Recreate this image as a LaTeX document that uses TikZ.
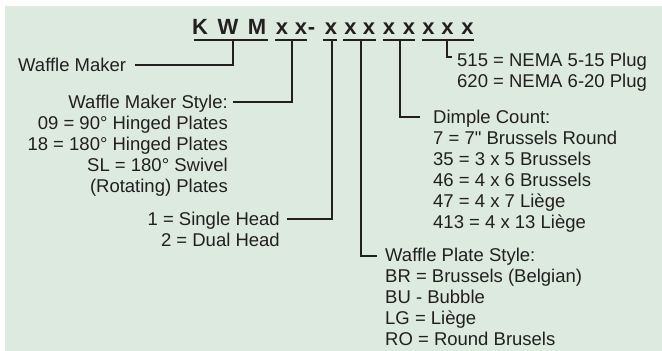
\documentclass[tikz,border=0pt]{standalone}
\usepackage{fontspec}
\setmainfont{Liberation Sans}
\definecolor{ink}{RGB}{35,31,32}
\definecolor{panel}{RGB}{220,234,224}
\begin{document}
\begin{tikzpicture}[x=1pt, y=-1pt,
  lbl/.style={inner sep=0pt, text height=12.5pt, text depth=0.5pt, text=ink, font=\fontsize{18.5}{21}\selectfont},
  cd/.style={inner sep=0pt, anchor=base, text=ink, font=\fontsize{22}{26}\selectfont\bfseries},
  ln/.style={ink, line width=2pt}]
\def\ls{21pt}
\useasboundingbox (0,0) rectangle (662,351);
\fill[panel] (5,6) rectangle (662,351);
% model code
\foreach \ch/\cx [count=\k] in {K/200, W/228, M/257, x/282, x/301, -/311.5, x/331, x/350.5, x/369, x/389, x/409, x/428.5, x/447.5, x/467.5}
  \node[cd] (c\k) at (\cx,34.7) {\ch};
\draw[ln] (194,40) -- (268,40) (275,40) -- (307,40) (323,40) -- (337,40)
  (343,40) -- (376,40) (383,40) -- (415,40) (422,40) -- (474,40);
\coordinate (kwm) at (233,40);
\coordinate (sty) at (292,40);
\coordinate (hd) at (332,40);
\coordinate (pla) at (361,40);
\coordinate (dim) at (400,40);
\coordinate (plg) at (447,40);
% left side
\node[lbl, anchor=base west] (maker) at (18,71) {Waffle Maker};
\node[lbl, anchor=base east] (style) at (228,108.3) {Waffle Maker Style:};
\foreach \t [count=\i] in {09 = 90° Hinged Plates, 18 = 180° Hinged Plates, SL = 180° Swivel, {(Rotating) Plates}}
  \node[lbl, anchor=base east] (style\i) at ([yshift=-\i*\ls]style.base east) {\t};
\node[lbl, anchor=base east] (head) at (280,225) {1 = Single Head};
\node[lbl, anchor=base east] (head1) at ([yshift=-\ls]head.base east) {2 = Dual Head};
% right side
\node[lbl, anchor=base west] (plug) at (457,66) {515 = NEMA 5-15 Plug};
\node[lbl, anchor=base west] (plug1) at ([yshift=-\ls]plug.base west) {620 = NEMA 6-20 Plug};
\node[lbl, anchor=base west] (dimple) at (433,123.3) {Dimple Count:};
\foreach \t [count=\i] in {7 = 7\textquotedbl{} Brussels Round, 35 = 3 x 5 Brussels, 46 = 4 x 6 Brussels, 47 = 4 x 7 Liège, 413 = 4 x 13 Liège}
  \node[lbl, anchor=base west] (dimple\i) at ([yshift=-\i*\ls]dimple.base west) {\t};
\node[lbl, anchor=base west] (plate) at (385,261.5) {Waffle Plate Style:};
\foreach \t [count=\i] in {BR = Brussels (Belgian), BU - Bubble, LG = Liège, RO = Round Brusels}
  \node[lbl, anchor=base west] (plate\i) at ([yshift=-\i*\ls]plate.base west) {\t};
% leaders
\draw[ln] (kwm) |- ([xshift=9pt]maker.east);
\draw[ln] (sty) |- ([xshift=5pt]style.east);
\draw[ln] (hd) |- ([xshift=6.5pt]head.east);
\draw[ln] (pla) |- ([xshift=-8pt]plate.west);
\draw[ln] (dim) |- ([xshift=-13pt]dimple.west);
\draw[ln] (plg) |- ([shift={(-5pt,9pt)}]plug.base west);
\end{tikzpicture}
\end{document}
